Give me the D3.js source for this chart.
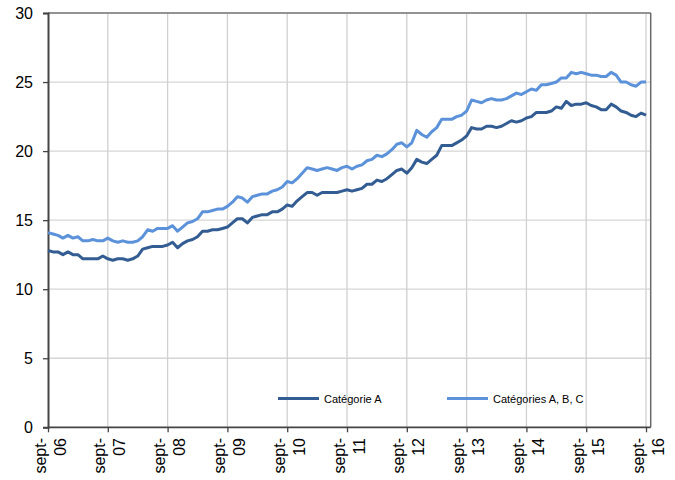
<!DOCTYPE html>
<html><head><meta charset="utf-8">
<script src="https://cdn.jsdelivr.net/npm/d3@7"></script>
<style>body{margin:0;background:#fff}svg{display:block;font-family:Arial,"Liberation Sans",sans-serif}</style>
</head><body><svg id="c" width="675" height="480"></svg>
<script>
// monthly values, sept. 2006 -> sept. 2016
const seriesNames = ["Catégorie A", "Catégories A, B, C"];
const catA = [
 12.8,12.7,12.7,12.5,12.7,12.5,12.5,12.2,12.2,12.2,12.2,12.4,
 12.2,12.1,12.2,12.2,12.1,12.2,12.4,12.9,13.0,13.1,13.1,13.1,
 13.2,13.4,13.0,13.3,13.5,13.6,13.8,14.2,14.2,14.3,14.3,14.4,
 14.5,14.8,15.1,15.1,14.8,15.2,15.3,15.4,15.4,15.6,15.6,15.8,
 16.1,16.0,16.4,16.7,17.0,17.0,16.8,17.0,17.0,17.0,17.0,17.1,
 17.2,17.1,17.2,17.3,17.6,17.6,17.9,17.8,18.0,18.3,18.6,18.7,
 18.4,18.8,19.4,19.2,19.1,19.4,19.7,20.4,20.4,20.4,20.6,20.8,
 21.1,21.7,21.6,21.6,21.8,21.8,21.7,21.8,22.0,22.2,22.1,22.2,
 22.4,22.5,22.8,22.8,22.8,22.9,23.2,23.1,23.6,23.3,23.4,23.4,
 23.5,23.3,23.2,23.0,23.0,23.4,23.2,22.9,22.8,22.6,22.5,22.75,
 22.6
];
const catABC = [
 14.1,14.0,13.9,13.7,13.9,13.7,13.8,13.5,13.5,13.6,13.5,13.5,
 13.7,13.5,13.4,13.5,13.4,13.4,13.5,13.8,14.3,14.2,14.4,14.4,
 14.4,14.6,14.2,14.5,14.8,14.9,15.1,15.6,15.6,15.7,15.8,15.8,
 16.0,16.3,16.7,16.6,16.3,16.7,16.8,16.9,16.9,17.1,17.2,17.4,
 17.8,17.7,18.0,18.4,18.8,18.7,18.6,18.7,18.8,18.7,18.6,18.8,
 18.9,18.7,18.9,19.0,19.3,19.4,19.7,19.6,19.8,20.1,20.5,20.6,
 20.3,20.6,21.5,21.2,21.0,21.4,21.7,22.3,22.3,22.3,22.5,22.6,
 22.9,23.7,23.6,23.5,23.7,23.8,23.7,23.7,23.8,24.0,24.2,24.1,
 24.3,24.5,24.4,24.8,24.8,24.9,25.0,25.3,25.3,25.7,25.6,25.7,
 25.6,25.5,25.5,25.4,25.4,25.7,25.5,25.0,25.0,24.8,24.7,25.0,
 25.0
];
const xTickLabels = ["06","07","08","09","10","11","12","13","14","15","16"];
const yTicks = [0,5,10,15,20,25,30];
const colors = ["#335d92", "#5b92d9"];

const svg = d3.select("#c");
const L = 48, R = 650.7, T = 13, B = 427.3;
const x = d3.scaleLinear().domain([0, 120.94]).range([L, R]);
const y = d3.scaleLinear().domain([0, 30]).range([B, T]);

// gridlines
svg.append("g").selectAll("line").data(yTicks.slice(1)).join("line")
  .attr("x1", L).attr("x2", R).attr("y1", d => y(d)).attr("y2", d => y(d))
  .attr("stroke", "#d6d6d6").attr("stroke-width", 1.3);
svg.append("g").selectAll("line").data(xTickLabels.slice(1)).join("line")
  .attr("x1", (d,i) => x((i+1)*12)).attr("x2", (d,i) => x((i+1)*12))
  .attr("y1", T).attr("y2", B)
  .attr("stroke", "#d0d0d0").attr("stroke-width", 1.3);

// frame top / right
svg.append("line").attr("x1", L).attr("x2", R).attr("y1", T).attr("y2", T).attr("stroke", "#7a7a7a").attr("stroke-width", 1.3);
svg.append("line").attr("x1", R).attr("x2", R).attr("y1", T).attr("y2", B).attr("stroke", "#6a6a6a").attr("stroke-width", 1.5);

// y axis
const yAxis = svg.append("g").attr("transform", `translate(${L},0)`)
  .call(d3.axisLeft(y).tickValues(yTicks).tickSize(5).tickPadding(10));
yAxis.select(".domain").attr("stroke", "#444").attr("stroke-width", 2);
yAxis.selectAll(".tick line").attr("stroke", "#444").attr("stroke-width", 1.3);
yAxis.selectAll("text").attr("font-size", 16).attr("fill", "#000").attr("font-family", "Arial, Liberation Sans, sans-serif");

// x axis
const xAxis = svg.append("g").attr("transform", `translate(0,${B})`)
  .call(d3.axisBottom(x).tickValues(xTickLabels.map((d,i) => i*12)).tickSize(5).tickFormat(""));
xAxis.select(".domain").attr("stroke", "#444").attr("stroke-width", 1.8).attr("d", `M${L},0H${R}`);
xAxis.selectAll(".tick line").attr("stroke", "#444").attr("stroke-width", 1.3);
const lab = svg.append("g").selectAll("g").data(xTickLabels).join("g")
  .attr("transform", (d,i) => `translate(${x(i*12)},438) rotate(-90)`)
  .attr("font-size", 16).attr("fill", "#000");
lab.append("text").attr("text-anchor", "end").attr("y", -2.5).text("sept-");
lab.append("text").attr("text-anchor", "end").attr("y", 17.5).text(d => d);

// lines
const line = d3.line().x((d,i) => x(i)).y(d => y(d));
[catA, catABC].forEach((s, k) => {
  svg.append("path").datum(s).attr("d", line).attr("fill", "none")
    .attr("stroke", colors[k]).attr("stroke-width", 3).attr("stroke-linejoin", "round");
});

// legend
const legX = [278, 447];
const lg = svg.append("g").selectAll("g").data(seriesNames).join("g")
  .attr("transform", (d,i) => `translate(${legX[i]},398.5)`);
lg.append("line").attr("x1", 0).attr("x2", 41).attr("stroke", (d,i) => colors[i]).attr("stroke-width", 3);
lg.append("text").attr("x", 46).attr("y", 4).attr("font-size", 11).attr("fill", "#000").text(d => d);
</script></body></html>
